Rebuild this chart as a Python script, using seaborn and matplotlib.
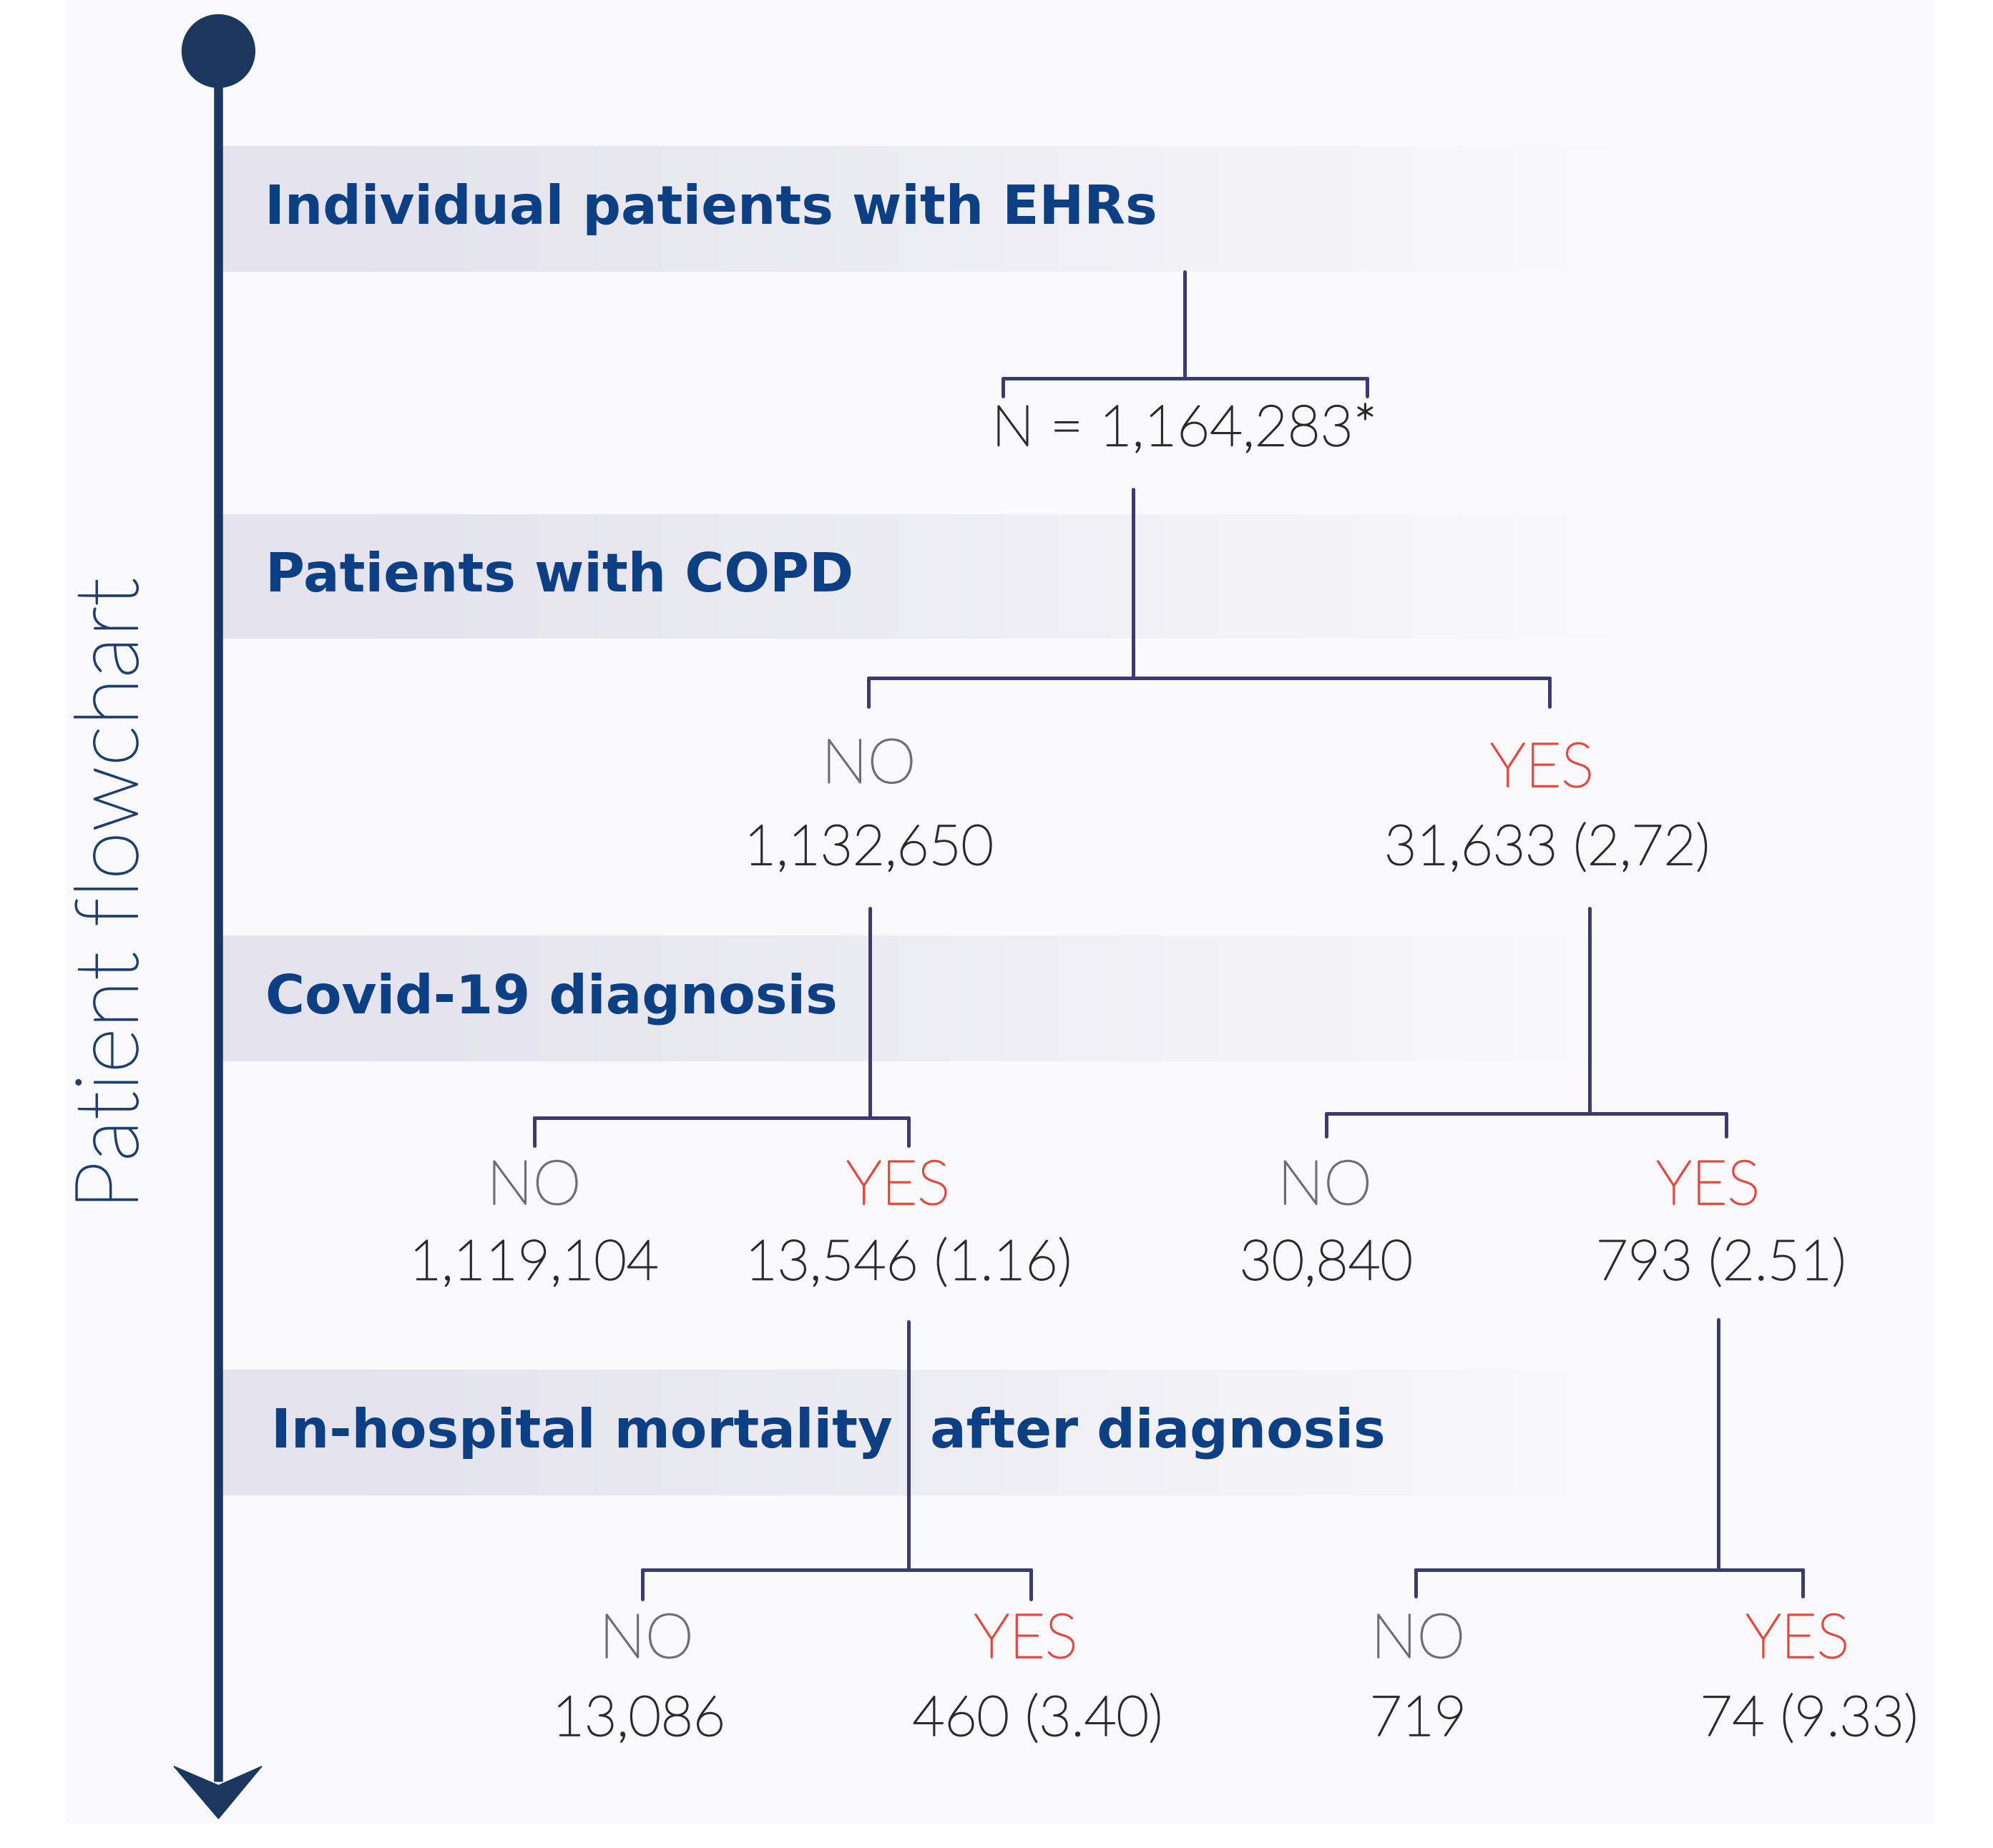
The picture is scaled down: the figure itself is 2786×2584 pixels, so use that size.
import numpy as np
import pandas as pd
import seaborn as sns
from matplotlib import pyplot as plt
from matplotlib import patheffects as pe
from matplotlib.patches import Ellipse, Polygon, Rectangle
from matplotlib.colors import to_rgb

# --- data -------------------------------------------------------------
stages = ["Individual patients with EHRs", "Patients with COPD",
          "Covid-19 diagnosis", "In-hospital mortality  after diagnosis"]
total_n = 1164283
copd_counts = [1132650, 31633]
copd_pct = [None, "2,72"]
covid_counts = [1119104, 13546, 30840, 793]
covid_pct = [None, "1.16", None, "2.51"]
death_counts = [13086, 460, 719, 74]
death_pct = [None, "3.40", None, "9.33"]
answers = ["NO", "YES"]

# --- layout (display px of a 1560 x 1447 canvas) -----------------------
W, H = 1560, 1447
band_y = [(115, 213), (403, 500), (733, 831), (1073, 1171)]
title_x = [207, 208, 208, 212]
# brackets: stem x, stem top, bar y, bar left, bar right, tick bottom
brackets = [(927, 213, 296, 785, 1070, 310),
            (887, 383, 531, 680, 1213, 553),
            (681, 711, 875, 418, 711, 897),
            (1244, 711, 872, 1038, 1351, 890),
            (711, 1035, 1229, 503, 807, 1252),
            (1345, 1033, 1229, 1108, 1411, 1250)]
copd_xy = [(680, 600, 680, 665), (1207, 603, 1211, 665)]
covid_xy = [(418, 930, 418, 990), (703, 930, 711, 990),
            (1037, 930, 1038, 990), (1337, 930, 1347, 990)]
death_xy = [(506, 1285, 500, 1347), (803, 1285, 812, 1347),
            (1110, 1285, 1110, 1347), (1407, 1285, 1416, 1347)]

NAVY = "#1b365f"
TITLE = "#0c3f84"
LINE = "#3d3a72"
GREY = "#6e6e6e"
RED = "#e4473d"
NUM = "#2b2b2b"

sns.set_theme(style="white")
plt.rcParams['font.family'] = ['Lato', 'Open Sans', 'DejaVu Sans']

fig = plt.figure(figsize=(27.86, 25.84), dpi=100)
ax = fig.add_axes([0, 0, 1, 1])
ax.set_xlim(0, W)
ax.set_ylim(H, 0)
ax.axis('off')


def light_text(x, y, s, color, size, **kw):
    # thin font, slightly thickened with a same-colour outline
    return ax.text(x, y, s, color=color, fontsize=size, fontweight='light',
                   path_effects=[pe.withStroke(linewidth=1.6, foreground=color)],
                   zorder=5, **kw)


# faint page panel
ax.add_patch(Rectangle((52, 0), 1462, 1428, color="#fafafc", lw=0, zorder=0))

# gradient bands
left = np.array(to_rgb("#e3e2ed"))
right = np.array(to_rgb("#fafafc"))
t = np.clip(np.linspace(0, 1, 400) ** 1.2, 0, 1)
grad = (left[None, :] * (1 - t[:, None]) + right[None, :] * t[:, None])[None, :, :]
for (y0, y1) in band_y:
    ax.imshow(grad, extent=(173, 1265, y1, y0), aspect='auto', zorder=1)

# timeline
ax.plot([171, 171], [40, 1395], color=NAVY, lw=9, solid_capstyle='butt', zorder=3)
ax.add_patch(Ellipse((171, 40), 57, 57, color=NAVY, zorder=4))
ax.add_patch(Polygon([(136, 1383), (171, 1398), (205, 1383), (171, 1424)],
                     closed=True, color=NAVY, zorder=4))
light_text(89, 700, "Patient flowchart", "#1f3d6e", 88, rotation=90,
           ha='center', va='center')

# stage titles
for name, x, (y0, y1) in zip(stages, title_x, band_y):
    ax.text(x, (y0 + y1) / 2, name, ha='left', va='center', fontsize=54,
            fontweight='bold', color=TITLE, family=['DejaVu Sans'], zorder=5)

# connector segments
segs = []
for i, (sx, st, by, bl, br, tb) in enumerate(brackets):
    segs += [(i, 'stem', sx, st, sx, by), (i, 'bar', bl, by, br, by),
             (i, 'tl', bl, by, bl, tb), (i, 'tr', br, by, br, tb)]
seg_df = pd.DataFrame(segs, columns=['br', 'part', 'x0', 'y0', 'x1', 'y1'])
long_df = pd.concat([
    seg_df.assign(x=seg_df.x0, y=seg_df.y0, pt=0),
    seg_df.assign(x=seg_df.x1, y=seg_df.y1, pt=1)])
long_df['seg'] = long_df.br.astype(str) + long_df.part
for _, g in long_df.groupby('seg'):
    sns.lineplot(data=g, x='x', y='y', sort=False, estimator=None, color=LINE,
                 lw=3.6, ax=ax, legend=False, zorder=2)
ax.set_xlim(0, W)
ax.set_ylim(H, 0)
ax.axis('off')

# node texts
def fmt(n, p):
    return f"{n:,}" if p is None else f"{n:,} ({p})"

light_text(927, 337, f"N = {total_n:,}*", NUM, 57, ha='center', va='center')

for counts, pcts, xy in [(copd_counts, copd_pct, copd_xy),
                         (covid_counts, covid_pct, covid_xy),
                         (death_counts, death_pct, death_xy)]:
    for k, (n, p, (ax_, ay, nx, ny)) in enumerate(zip(counts, pcts, xy)):
        ans = answers[k % 2]
        light_text(ax_, ay, ans, GREY if ans == "NO" else RED, 62,
                   ha='center', va='center')
        light_text(nx, ny, fmt(n, p), NUM, 56, ha='center', va='center')

fig.savefig("out.png", dpi=100, facecolor='white')
